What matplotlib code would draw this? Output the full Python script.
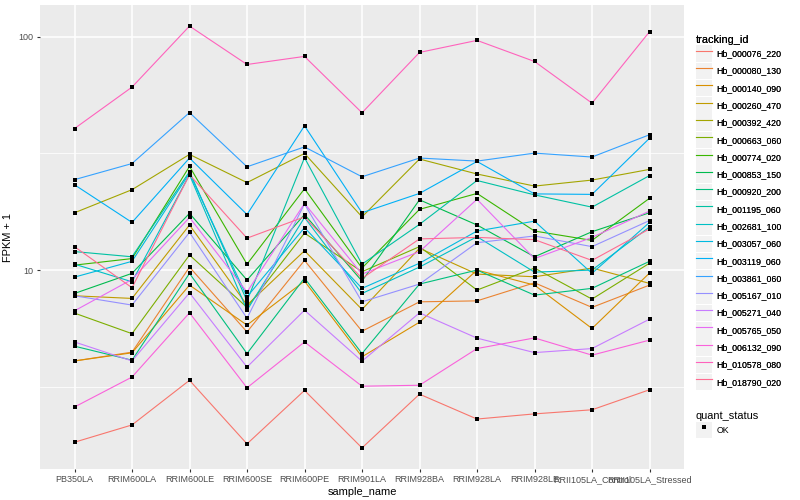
import numpy as np
import matplotlib
matplotlib.use('Agg')
import matplotlib.pyplot as plt
from matplotlib.lines import Line2D
from matplotlib.patches import Rectangle
from matplotlib.legend_handler import HandlerLine2D
from matplotlib.ticker import FixedLocator, NullFormatter

plt.rcParams['font.family'] = ['Liberation Sans', 'DejaVu Sans']

# x categories
samples = ['PB350LA', 'RRIM600LA', 'RRIM600LE', 'RRIM600SE', 'RRIM600PE',
           'RRIM901LA', 'RRIM928BA', 'RRIM928LA', 'RRIM928LE',
           'RRII105LA_Control', 'RRII105LA_Stressed']

tracking_ids = ['Hb_000076_220', 'Hb_000080_130', 'Hb_000140_090', 'Hb_000260_470',
                'Hb_000392_420', 'Hb_000663_060', 'Hb_000774_020', 'Hb_000853_150',
                'Hb_000920_200', 'Hb_001195_060', 'Hb_002681_100', 'Hb_003057_060',
                'Hb_003119_060', 'Hb_003861_060', 'Hb_005167_010', 'Hb_005271_040',
                'Hb_005765_050', 'Hb_006132_090', 'Hb_010578_080', 'Hb_018790_020']

# ggplot default hue palette for 20 levels
hue_colors = ['#F8766D', '#EA8331', '#D89000', '#C09B00', '#A3A500', '#7CAE00',
              '#39B600', '#00BB4E', '#00BF7D', '#00C1A3', '#00BFC4', '#00BAE0',
              '#00B0F6', '#35A2FF', '#9590FF', '#C77CFF', '#E76BF3', '#FA62DB',
              '#FF62BC', '#FF6C91']

# FPKM + 1 per gene, one value per sample
hb_000076_220 = [1.83, 2.17, 3.37, 1.80, 3.05, 1.73, 2.94, 2.30, 2.42, 2.52, 3.07]
hb_000080_130 = [4.08, 4.45, 10.3, 5.43, 11.0, 5.47, 7.31, 7.38, 8.82, 6.92, 8.62]
hb_000140_090 = [4.08, 4.42, 8.62, 5.81, 8.97, 4.25, 5.98, 10.0, 8.62, 5.62, 9.71]
hb_000260_470 = [7.76, 7.56, 15.6, 7.08, 12.1, 6.78, 12.4, 9.61, 9.36, 10.2, 8.77]
hb_000392_420 = [17.6, 22.1, 31.3, 23.7, 31.6, 16.9, 29.9, 25.8, 22.9, 24.3, 27.0]
hb_000663_060 = [6.54, 5.34, 11.6, 6.92, 14.4, 9.84, 12.6, 8.21, 10.2, 7.51, 10.7]
hb_000774_020 = [10.5, 11.2, 27.8, 10.6, 22.3, 10.2, 18.2, 21.3, 14.7, 13.4, 20.3]
hb_000853_150 = [7.94, 9.68, 17.5, 9.06, 17.3, 8.97, 20.0, 15.6, 11.4, 14.6, 17.6]
hb_000920_200 = [4.72, 4.11, 9.68, 4.39, 9.24, 4.39, 8.71, 10.0, 7.81, 8.35, 10.9]
hb_001195_060 = [12.0, 11.4, 26.4, 7.38, 30.3, 10.6, 15.7, 24.2, 21.0, 18.6, 25.4]
hb_002681_100 = [10.6, 8.91, 25.6, 6.73, 16.8, 7.94, 10.3, 13.9, 9.80, 10.0, 15.3]
hb_003057_060 = [9.33, 10.9, 26.0, 7.68, 15.2, 8.35, 10.7, 14.7, 16.2, 9.68, 16.0]
hb_003119_060 = [23.2, 16.0, 30.2, 17.3, 41.5, 17.6, 21.3, 29.2, 21.2, 21.1, 36.7]
hb_003861_060 = [24.4, 28.6, 47.3, 27.7, 33.7, 25.1, 30.2, 29.3, 31.7, 30.5, 38.0]
hb_005167_010 = [7.76, 7.08, 14.5, 6.22, 19.2, 7.31, 8.71, 13.1, 14.0, 12.6, 16.3]
hb_005271_040 = [4.92, 4.08, 7.99, 3.84, 6.73, 4.07, 6.56, 5.11, 4.43, 4.61, 6.16]
hb_005765_050 = [6.69, 9.12, 16.8, 8.05, 19.3, 9.61, 12.0, 20.1, 11.2, 13.8, 17.9]
hb_006132_090 = [2.59, 3.48, 6.56, 3.13, 4.92, 3.18, 3.21, 4.61, 5.12, 4.32, 5.01]
hb_010578_080 = [40.4, 60.8, 111.0, 76.0, 82.3, 47.2, 85.6, 96.4, 78.3, 51.9, 105.0]
hb_018790_020 = [12.6, 8.40, 25.6, 13.7, 16.9, 9.21, 13.6, 13.8, 13.5, 11.0, 15.0]

series = [hb_000076_220, hb_000080_130, hb_000140_090, hb_000260_470, hb_000392_420,
          hb_000663_060, hb_000774_020, hb_000853_150, hb_000920_200, hb_001195_060,
          hb_002681_100, hb_003057_060, hb_003119_060, hb_003861_060, hb_005167_010,
          hb_005271_040, hb_005765_050, hb_006132_090, hb_010578_080, hb_018790_020]


class KeyHandler(HandlerLine2D):
    # grey key background like ggplot legends
    def create_artists(self, legend, orig_handle, xdescent, ydescent,
                       width, height, fontsize, trans):
        bg = Rectangle((-xdescent, -ydescent), width, height,
                       facecolor='#F2F2F2', edgecolor='none', transform=trans)
        arts = super().create_artists(legend, orig_handle, xdescent, ydescent,
                                      width, height, fontsize, trans)
        return [bg] + list(arts)


fig = plt.figure(figsize=(8, 5), dpi=100)
ax = fig.add_axes([40 / 800, 1 - 469 / 500, 644 / 800, 464 / 500])
ax.set_facecolor('#EBEBEB')
for s in ax.spines.values():
    s.set_visible(False)

xs = np.arange(len(samples))
for vals, col in zip(series, hue_colors):
    ax.plot(xs, vals, color=col, lw=0.8, zorder=3)
for vals in series:
    ax.plot(xs, vals, 's', color='black', ms=2.6, mew=0, zorder=4)

ax.set_yscale('log')
allv = np.log10(np.concatenate([np.array(v) for v in series]))
lo, hi = allv.min(), allv.max()
pad = (hi - lo) * 0.05
ax.set_ylim(10 ** (lo - pad), 10 ** (hi + pad))
ax.set_xlim(-0.6, len(samples) - 0.4)

ax.yaxis.set_major_locator(FixedLocator([10, 100]))
ax.yaxis.set_minor_locator(FixedLocator([10 ** 0.5, 10 ** 1.5]))
ax.yaxis.set_minor_formatter(NullFormatter())
ax.set_yticklabels(['10', '100'])
ax.set_xticks(xs)
ax.set_xticklabels(samples)

ax.grid(which='major', color='white', lw=1.1, zorder=1)
ax.grid(which='minor', axis='y', color='white', lw=0.55, zorder=1)
ax.set_axisbelow(True)
ax.tick_params(which='major', length=2.5, width=0.8, color='#333333',
               labelsize=6.5, labelcolor='#4D4D4D', pad=2)
ax.tick_params(which='minor', length=0)

ax.set_xlabel('sample_name', fontsize=7.9, labelpad=2)
ax.set_ylabel('FPKM + 1', fontsize=7.9, labelpad=4)

legend_style = dict(loc='upper left', frameon=False, fontsize=6.3, title_fontsize=7.9,
                    handlelength=1.9, handleheight=2.54, handletextpad=0.5,
                    labelspacing=0.08, borderpad=0.2, alignment='left',
                    handler_map={Line2D: KeyHandler()})

handles = [Line2D([], [], color=c, lw=0.8) for c in hue_colors]
leg1 = fig.legend(handles, tracking_ids, title='tracking_id',
                  bbox_to_anchor=(0.862, 0.943), **legend_style)
fig.add_artist(leg1)

ok_handle = Line2D([], [], color='black', marker='s', ls='none', ms=2.6, mew=0)
leg2 = fig.legend([ok_handle], ['OK'], title='quant_status',
                  bbox_to_anchor=(0.862, 0.19), **legend_style)

fig.savefig('out.png', dpi=100)
